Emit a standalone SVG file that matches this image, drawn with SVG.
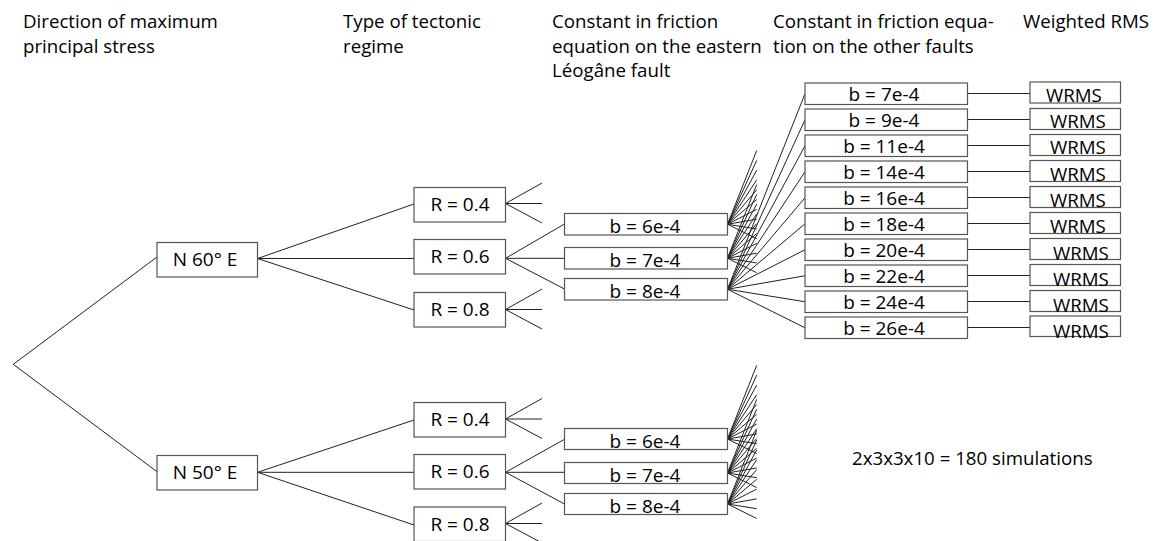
<svg xmlns="http://www.w3.org/2000/svg" xmlns:xlink="http://www.w3.org/1999/xlink" width="1156" height="541" viewBox="0 0 1156 541">
  <style>
    text { font-family: "Open Sans", "Liberation Sans", sans-serif; fill: #000; }
    .hdr { font-size: 18.7px; }
    .wr { font-size: 18.7px; }
    .lbl { font-size: 19px; text-anchor: middle; }
    .box { fill: #fff; stroke: #555; stroke-width: 1.2; }
    .ln { stroke: #222; stroke-width: 1; fill: none; }
  </style>
  <defs>
    <g id="fan">
      <line x1="0" y1="0" x2="29.2" y2="-73.66"/>
      <line x1="0" y1="0" x2="29.2" y2="-63.87"/>
      <line x1="0" y1="0" x2="29.2" y2="-54.07"/>
      <line x1="0" y1="0" x2="29.2" y2="-44.27"/>
      <line x1="0" y1="0" x2="29.2" y2="-34.48"/>
      <line x1="0" y1="0" x2="29.2" y2="-24.68"/>
      <line x1="0" y1="0" x2="29.2" y2="-14.88"/>
      <line x1="0" y1="0" x2="29.2" y2="-5.09"/>
      <line x1="0" y1="0" x2="29.2" y2="4.71"/>
      <line x1="0" y1="0" x2="29.2" y2="14.51"/>
    </g>
    <g id="fan3">
      <line x1="0" y1="0" x2="36.5" y2="-20.5"/>
      <line x1="0" y1="0" x2="36.5" y2="0"/>
      <line x1="0" y1="0" x2="36.5" y2="19.5"/>
    </g>
  </defs>

  <g id="headers">
    <text class="hdr" x="23" y="28">Direction of maximum</text>
    <text class="hdr" x="23" y="52.5">principal stress</text>
    <text class="hdr" x="343" y="28">Type of tectonic</text>
    <text class="hdr" x="343" y="52.5">regime</text>
    <text class="hdr" x="552" y="28">Constant in friction</text>
    <text class="hdr" x="552" y="52.5">equation on the eastern</text>
    <text class="hdr" x="552" y="77">Léogâne fault</text>
    <text class="hdr" x="773" y="28">Constant in friction equa-</text>
    <text class="hdr" x="773" y="52.5">tion on the other faults</text>
    <text class="hdr" x="1023" y="28">Weighted RMS</text>
    <text class="hdr" x="852" y="465">2x3x3x10 = 180 simulations</text>
  </g>

  <g id="connectors" class="ln">
    <!-- root -->
    <polyline points="157,257 13.3,364.3 157,471.7"/>
    <!-- N 60 E -->
    <line x1="257.5" y1="258.5" x2="414" y2="204"/>
    <line x1="257.5" y1="258.5" x2="414" y2="258.5"/>
    <line x1="257.5" y1="258.5" x2="414" y2="310"/>
    <!-- N 50 E -->
    <line x1="257.5" y1="472.3" x2="414" y2="420"/>
    <line x1="257.5" y1="472.3" x2="414" y2="472.3"/>
    <line x1="257.5" y1="472.3" x2="414" y2="525"/>
    <!-- R fans (upper) -->
    <use xlink:href="#fan3" x="505.5" y="203.5"/>
    <use xlink:href="#fan3" x="505.5" y="309.5"/>
    <line x1="505.5" y1="258.3" x2="564.5" y2="224"/>
    <line x1="505.5" y1="258.3" x2="564.5" y2="258.3"/>
    <line x1="505.5" y1="258.3" x2="564.5" y2="289"/>
    <!-- R fans (lower) -->
    <use xlink:href="#fan3" x="505.5" y="419"/>
    <use xlink:href="#fan3" x="505.5" y="523.5"/>
    <line x1="505.5" y1="472.3" x2="564.5" y2="439.3"/>
    <line x1="505.5" y1="472.3" x2="564.5" y2="472.3"/>
    <line x1="505.5" y1="472.3" x2="564.5" y2="504"/>
    <!-- truncated b fans -->
    <use xlink:href="#fan" x="727.5" y="224.25"/>
    <use xlink:href="#fan" x="727.5" y="258.25"/>
    <use xlink:href="#fan" x="727.5" y="439"/>
    <use xlink:href="#fan" x="727.5" y="473"/>
    <use xlink:href="#fan" x="727.5" y="504"/>
    <!-- full fan from b = 8e-4 -->
    <line x1="727.5" y1="289.25" x2="805" y2="93.75"/>
    <line x1="727.5" y1="289.25" x2="805" y2="119.75"/>
    <line x1="727.5" y1="289.25" x2="805" y2="145.75"/>
    <line x1="727.5" y1="289.25" x2="805" y2="171.75"/>
    <line x1="727.5" y1="289.25" x2="805" y2="197.75"/>
    <line x1="727.5" y1="289.25" x2="805" y2="223.75"/>
    <line x1="727.5" y1="289.25" x2="805" y2="249.75"/>
    <line x1="727.5" y1="289.25" x2="805" y2="275.75"/>
    <line x1="727.5" y1="289.25" x2="805" y2="301.75"/>
    <line x1="727.5" y1="289.25" x2="805" y2="327.75"/>
    <!-- b to WRMS -->
    <line x1="967.5" y1="93.5" x2="1030" y2="93.5"/>
    <line x1="967.5" y1="119.5" x2="1030" y2="119.5"/>
    <line x1="967.5" y1="145.5" x2="1030" y2="145.5"/>
    <line x1="967.5" y1="171.5" x2="1030" y2="171.5"/>
    <line x1="967.5" y1="197.5" x2="1030" y2="197.5"/>
    <line x1="967.5" y1="223.5" x2="1030" y2="223.5"/>
    <line x1="967.5" y1="249.5" x2="1030" y2="249.5"/>
    <line x1="967.5" y1="275.5" x2="1030" y2="275.5"/>
    <line x1="967.5" y1="301.5" x2="1030" y2="301.5"/>
    <line x1="967.5" y1="327.5" x2="1030" y2="327.5"/>
  </g>

  <g id="n60"><rect class="box" x="157" y="242.5" width="100.5" height="34.5"/><text class="lbl" x="205" y="265.5">N 60° E</text></g>
  <g id="n50"><rect class="box" x="157" y="455.5" width="100.5" height="34.5"/><text class="lbl" x="205" y="478.5">N 50° E</text></g>

  <g id="r04a"><rect class="box" x="414" y="187.5" width="91.5" height="34.5"/><text class="lbl" x="460" y="211">R = 0.4</text></g>
  <g id="r06a"><rect class="box" x="414" y="239.5" width="91.5" height="34.5"/><text class="lbl" x="460" y="263">R = 0.6</text></g>
  <g id="r08a"><rect class="box" x="414" y="292.5" width="91.5" height="34.5"/><text class="lbl" x="460" y="316">R = 0.8</text></g>
  <g id="r04b"><rect class="box" x="414" y="402.5" width="91.5" height="34.5"/><text class="lbl" x="460" y="426">R = 0.4</text></g>
  <g id="r06b"><rect class="box" x="414" y="454.5" width="91.5" height="34.5"/><text class="lbl" x="460" y="478">R = 0.6</text></g>
  <g id="r08b"><rect class="box" x="414" y="507" width="91.5" height="34.5"/><text class="lbl" x="460" y="531">R = 0.8</text></g>

  <g id="b6a"><rect class="box" x="564.5" y="213.5" width="163" height="21.5"/><text class="lbl" x="645" y="233">b = 6e-4</text></g>
  <g id="b7a"><rect class="box" x="564.5" y="247.5" width="163" height="21.5"/><text class="lbl" x="645" y="267">b = 7e-4</text></g>
  <g id="b8a"><rect class="box" x="564.5" y="278.5" width="163" height="21.5"/><text class="lbl" x="645" y="298">b = 8e-4</text></g>
  <g id="b6b"><rect class="box" x="564.5" y="428.5" width="163" height="21"/><text class="lbl" x="645" y="448">b = 6e-4</text></g>
  <g id="b7b"><rect class="box" x="564.5" y="462.5" width="163" height="21"/><text class="lbl" x="645" y="482">b = 7e-4</text></g>
  <g id="b8b"><rect class="box" x="564.5" y="493.5" width="163" height="21"/><text class="lbl" x="645" y="513">b = 8e-4</text></g>

  <g id="c7"><rect class="box" x="805" y="83" width="162.5" height="21.5"/><text class="lbl" x="884" y="101">b = 7e-4</text></g>
  <g id="c9"><rect class="box" x="805" y="109" width="162.5" height="21.5"/><text class="lbl" x="884" y="127">b = 9e-4</text></g>
  <g id="c11"><rect class="box" x="805" y="135" width="162.5" height="21.5"/><text class="lbl" x="884" y="153">b = 11e-4</text></g>
  <g id="c14"><rect class="box" x="805" y="161" width="162.5" height="21.5"/><text class="lbl" x="884" y="179">b = 14e-4</text></g>
  <g id="c16"><rect class="box" x="805" y="187" width="162.5" height="21.5"/><text class="lbl" x="884" y="205">b = 16e-4</text></g>
  <g id="c18"><rect class="box" x="805" y="213" width="162.5" height="21.5"/><text class="lbl" x="884" y="231">b = 18e-4</text></g>
  <g id="c20"><rect class="box" x="805" y="239" width="162.5" height="21.5"/><text class="lbl" x="884" y="257">b = 20e-4</text></g>
  <g id="c22"><rect class="box" x="805" y="265" width="162.5" height="21.5"/><text class="lbl" x="884" y="283">b = 22e-4</text></g>
  <g id="c24"><rect class="box" x="805" y="291" width="162.5" height="21.5"/><text class="lbl" x="884" y="309">b = 24e-4</text></g>
  <g id="c26"><rect class="box" x="805" y="317" width="162.5" height="21.5"/><text class="lbl" x="884" y="335">b = 26e-4</text></g>

  <g id="w1"><rect class="box" x="1030" y="82" width="90.5" height="21"/><text class="wr" x="1046" y="102">WRMS</text></g>
  <g id="w2"><rect class="box" x="1030" y="108.5" width="90.5" height="21"/><text class="wr" x="1050" y="128">WRMS</text></g>
  <g id="w3"><rect class="box" x="1030" y="134.5" width="90.5" height="21"/><text class="wr" x="1050" y="154">WRMS</text></g>
  <g id="w4"><rect class="box" x="1030" y="160.5" width="90.5" height="21"/><text class="wr" x="1050" y="180.5">WRMS</text></g>
  <g id="w5"><rect class="box" x="1030" y="186.5" width="90.5" height="21"/><text class="wr" x="1050" y="206.5">WRMS</text></g>
  <g id="w6"><rect class="box" x="1030" y="212.5" width="90.5" height="21"/><text class="wr" x="1050" y="233">WRMS</text></g>
  <g id="w7"><rect class="box" x="1030" y="238.5" width="90.5" height="21"/><text class="wr" x="1053" y="259.5">WRMS</text></g>
  <g id="w8"><rect class="box" x="1030" y="264.5" width="90.5" height="21"/><text class="wr" x="1053" y="285.5">WRMS</text></g>
  <g id="w9"><rect class="box" x="1030" y="290.5" width="90.5" height="21"/><text class="wr" x="1053" y="311.5">WRMS</text></g>
  <g id="w10"><rect class="box" x="1030" y="316" width="90.5" height="20.5"/><text class="wr" x="1053" y="337.5">WRMS</text></g>
</svg>
